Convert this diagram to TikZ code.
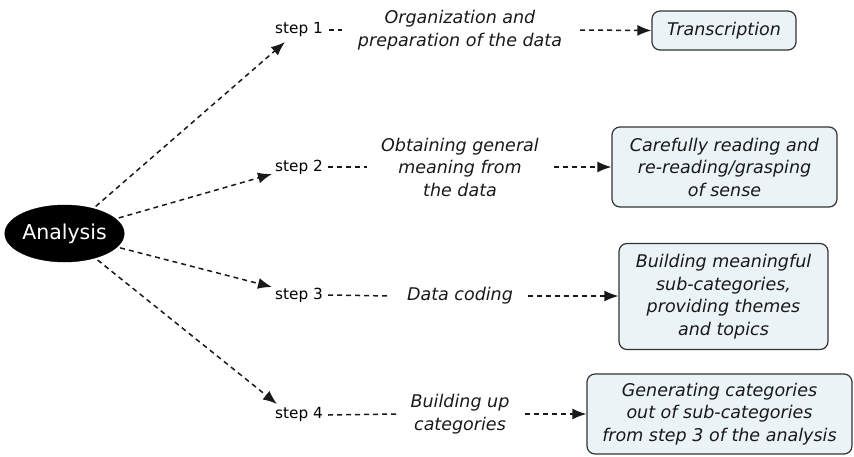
\documentclass[tikz,border=0pt]{standalone}
\usepackage{fontspec}
\setmainfont{DejaVu Sans}
\usetikzlibrary{arrows.meta,shapes.geometric}
\begin{document}
\begin{tikzpicture}[x=1pt,y=-1pt,
 ana/.style={ellipse, fill=black, draw=black, minimum width=115pt, minimum height=57pt, inner sep=0pt, text=white, font=\fontsize{20.5}{24}\selectfont},
 steplbl/.style={anchor=west, inner sep=0pt, text=black, font=\fontsize{15.3}{18}\selectfont},
 midtxt/.style={align=center, inner sep=0pt, text=black!90, font=\fontsize{17.5}{22.5}\selectfont\itshape},
 resbox/.style={draw=black!80, line width=1.2pt, rounded corners=8pt, fill={rgb,255:red,234;green,243;blue,246}, align=center, inner sep=0pt, text=black!90, font=\fontsize{17.5}{22.5}\selectfont\itshape},
 dl/.style={line width=1.5pt, dash pattern=on 5pt off 4pt, black!90},
 da/.style={dl, -{Latex[length=14pt,width=11pt]}},
]
\useasboundingbox (0,0) rectangle (854,456);

\node[ana] (ana) at (64.5,233.5) {Analysis};

\node[steplbl] (s1) at (275,30) {step 1};
\node[steplbl] (s2) at (275,167) {step 2};
\node[steplbl] (s3) at (275,295) {step 3};
\node[steplbl] (s4) at (275,415) {step 4};

\node[midtxt] (m1) at (460,30) {Organization and\\preparation of the data};
\node[midtxt] (m2) at (460,167) {Obtaining general\\meaning from\\the data};
\node[midtxt] (m3) at (460,296) {Data coding};
\node[midtxt] (m4) at (460,414) {Building up\\categories};

\node[resbox, minimum width=144pt, minimum height=39pt] (b1) at (724,30.5) {Transcription};
\node[resbox, minimum width=225pt, minimum height=80pt] (b2) at (724.5,167) {Carefully reading and\\re-reading/grasping\\of sense};
\node[resbox, minimum width=209pt, minimum height=106pt] (b3) at (723.5,296.5) {Building meaningful\\sub-categories,\\providing themes\\and topics};
\node[resbox, minimum width=265pt, minimum height=80pt] (b4) at (719.5,414) {Generating categories\\out of sub-categories\\from step 3 of the analysis};

\coordinate (t1) at (285,42);
\coordinate (t2) at (272,174);
\coordinate (t3) at (272,287);
\coordinate (t4) at (277,404);

\draw[da, shorten <=3pt] (ana) -- (t1);
\draw[da, shorten <=3pt] (ana) -- (t2);
\draw[da, shorten <=3pt] (ana) -- (t3);
\draw[da, shorten <=3pt] (ana) -- (t4);

\draw[dl] ([xshift=6pt]s1.east) -- ([xshift=-16pt]m1.west);
\draw[dl] ([xshift=5pt]s2.east) -- ([xshift=-14pt]m2.west);
\draw[dl] ([xshift=5pt]s3.east) -- ([xshift=-16pt]m3.west);
\draw[dl] ([xshift=5pt]s4.east) -- ([xshift=-14pt]m4.west);

\draw[da] ([xshift=18pt]m1.east) -- (b1.west);
\draw[da] ([xshift=15pt]m2.east) -- (b2.west);
\draw[da] ([xshift=15pt]m3.east) -- (m3.east -| b3.west);
\draw[da] ([xshift=15pt]m4.east) -- (b4.west);
\end{tikzpicture}
\end{document}
